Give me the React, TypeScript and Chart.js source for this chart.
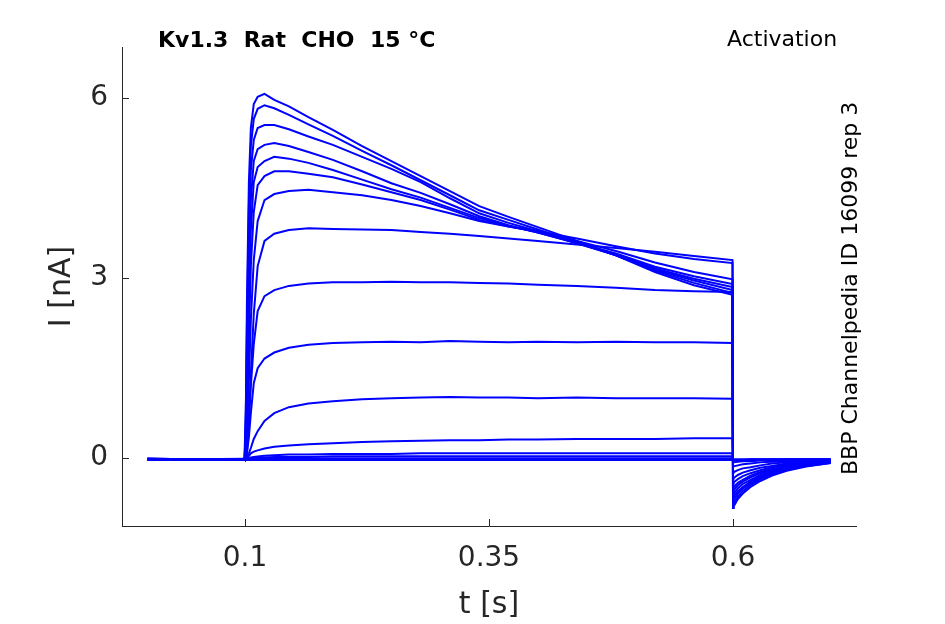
import React, { useEffect, useRef } from 'react';
import { Chart, registerables } from 'chart.js';

Chart.register(...registerables);

// time base [s], shared by all sweeps
const TIME = [
  0, 0.05, 0.0995,
  0.1, 0.101, 0.102, 0.104, 0.106, 0.109, 0.113,
  0.12, 0.13, 0.145, 0.165, 0.19,
  0.22, 0.25, 0.28, 0.31, 0.34, 0.37, 0.4, 0.44, 0.48, 0.52, 0.56, 0.5995,
  0.6, 0.6008, 0.605, 0.61, 0.618, 0.628, 0.64, 0.655, 0.675, 0.7,
];

// current [nA] per sweep, largest step first
const SWEEP_1 = [
  -0.01, -0.03, -0.02,
  -0.02, 1.0, 2.6, 4.6, 5.5, 5.9, 6.02,
  6.07, 5.97, 5.86, 5.68, 5.47,
  5.2, 4.95, 4.7, 4.45, 4.2, 4.02, 3.85, 3.62, 3.38, 3.1, 2.88, 2.72,
  -0.83, -0.8, -0.68, -0.59, -0.48, -0.38, -0.29, -0.21, -0.14, -0.08,
];
const SWEEP_2 = [
  -0.02, -0.02, -0.01,
  -0.02, 0.8, 2.2, 4.2, 5.2, 5.65, 5.82,
  5.88, 5.83, 5.72, 5.56, 5.37,
  5.12, 4.88, 4.63, 4.38, 4.13, 3.97, 3.81, 3.6, 3.38, 3.12, 2.92, 2.75,
  -0.78, -0.75, -0.64, -0.55, -0.45, -0.35, -0.27, -0.19, -0.13, -0.08,
];
const SWEEP_3 = [
  -0.01, -0.02, -0.02,
  -0.02, 0.6, 1.8, 3.7, 4.8, 5.3, 5.5,
  5.55, 5.55, 5.48, 5.36, 5.22,
  5.02, 4.82, 4.6, 4.33, 4.08, 3.92, 3.78, 3.58, 3.38, 3.14, 2.96, 2.8,
  -0.72, -0.69, -0.59, -0.51, -0.42, -0.33, -0.25, -0.18, -0.12, -0.07,
];
const SWEEP_4 = [
  -0.02, -0.03, -0.02,
  -0.02, 0.45, 1.4, 3.2, 4.3, 4.95, 5.15,
  5.22, 5.25, 5.2, 5.1, 4.97,
  4.78, 4.58, 4.42, 4.23, 4.03, 3.88, 3.76, 3.58, 3.39, 3.16, 2.99, 2.85,
  -0.67, -0.64, -0.55, -0.48, -0.39, -0.31, -0.23, -0.17, -0.12, -0.07,
];
const SWEEP_5 = [
  -0.01, -0.02, -0.03,
  -0.02, 0.3, 1.0, 2.6, 3.8, 4.6, 4.85,
  4.95, 5.02, 4.99, 4.92, 4.8,
  4.64, 4.48, 4.34, 4.17, 4.0, 3.87, 3.76, 3.59, 3.41, 3.19, 3.03, 2.9,
  -0.61, -0.59, -0.5, -0.43, -0.36, -0.28, -0.21, -0.16, -0.11, -0.07,
];
const SWEEP_6 = [
  -0.02, -0.02, -0.02,
  -0.02, 0.2, 0.7, 2.0, 3.2, 4.1, 4.55,
  4.7, 4.78, 4.78, 4.74, 4.68,
  4.56, 4.43, 4.3, 4.14, 3.97, 3.86, 3.77, 3.62, 3.45, 3.26, 3.1, 2.98,
  -0.55, -0.53, -0.45, -0.39, -0.32, -0.25, -0.19, -0.14, -0.1, -0.06,
];
const SWEEP_7 = [
  -0.02, -0.03, -0.01,
  -0.02, 0.1, 0.4, 1.3, 2.3, 3.3, 3.95,
  4.3, 4.4, 4.45, 4.47, 4.43,
  4.38, 4.3, 4.2, 4.08, 3.95, 3.86, 3.78, 3.66, 3.53, 3.41, 3.32, 3.25,
  -0.5, -0.48, -0.41, -0.36, -0.29, -0.23, -0.18, -0.13, -0.09, -0.06,
];
const SWEEP_8 = [
  -0.01, -0.02, -0.02,
  -0.02, 0.05, 0.2, 0.7, 1.4, 2.4, 3.2,
  3.62, 3.74, 3.8, 3.83, 3.82,
  3.81, 3.8, 3.77, 3.74, 3.7, 3.66, 3.62, 3.56, 3.5, 3.44, 3.37, 3.3,
  -0.42, -0.4, -0.35, -0.3, -0.25, -0.2, -0.15, -0.11, -0.08, -0.05,
];
const SWEEP_9 = [
  -0.02, -0.02, -0.02,
  -0.02, 0.02, 0.1, 0.6, 1.2, 1.9, 2.45,
  2.7, 2.8, 2.87, 2.91, 2.93,
  2.93, 2.94, 2.93, 2.93, 2.92, 2.91, 2.89, 2.87, 2.84, 2.8, 2.78, 2.77,
  -0.34, -0.33, -0.28, -0.24, -0.2, -0.16, -0.13, -0.09, -0.07, -0.05,
];
const SWEEP_10 = [
  -0.02, -0.03, -0.02,
  -0.02, 0.02, 0.08, 0.35, 0.75, 1.25, 1.5,
  1.66, 1.76, 1.84, 1.89, 1.92,
  1.93, 1.94, 1.93, 1.95, 1.94, 1.93, 1.94, 1.93, 1.94, 1.93, 1.93, 1.92,
  -0.24, -0.23, -0.2, -0.17, -0.15, -0.12, -0.09, -0.07, -0.05, -0.04,
];
const SWEEP_11 = [
  -0.01, -0.02, -0.02,
  -0.02, 0.0, 0.02, 0.08, 0.17, 0.32, 0.45,
  0.62, 0.75, 0.85, 0.91, 0.95,
  0.98, 1.0, 1.01, 1.02, 1.01, 1.01, 1.0, 1.01, 1.0, 1.0, 1.0, 0.99,
  -0.14, -0.14, -0.12, -0.1, -0.09, -0.07, -0.06, -0.05, -0.04, -0.03,
];
const SWEEP_12 = [
  -0.02, -0.02, -0.02,
  -0.02, -0.01, 0.0, 0.04, 0.08, 0.11, 0.13,
  0.16, 0.19, 0.21, 0.23, 0.25,
  0.27, 0.28, 0.29, 0.3, 0.3, 0.31, 0.31, 0.32, 0.32, 0.32, 0.33, 0.33,
  -0.07, -0.07, -0.06, -0.05, -0.05, -0.04, -0.04, -0.03, -0.03, -0.03,
];
const SWEEP_13 = [
  -0.02, -0.02, -0.01,
  -0.02, -0.02, -0.01, 0.0, 0.01, 0.02, 0.03,
  0.04, 0.05, 0.06, 0.06, 0.07,
  0.07, 0.07, 0.08, 0.08, 0.08, 0.08, 0.08, 0.08, 0.08, 0.08, 0.08, 0.08,
  -0.04, -0.04, -0.04, -0.03, -0.03, -0.03, -0.03, -0.02, -0.02, -0.02,
];
const SWEEP_14 = [
  -0.02, -0.03, -0.02,
  -0.02, -0.02, -0.02, -0.01, 0.0, 0.0, 0.01,
  0.01, 0.02, 0.02, 0.02, 0.03,
  0.03, 0.03, 0.03, 0.03, 0.03, 0.03, 0.03, 0.03, 0.03, 0.03, 0.03, 0.03,
  -0.03, -0.03, -0.03, -0.03, -0.02, -0.02, -0.02, -0.02, -0.02, -0.02,
];
const SWEEP_15 = [
  -0.02, -0.02, -0.02,
  -0.02, -0.02, -0.02, -0.02, -0.01, -0.01, -0.01,
  -0.01, -0.01, 0.0, 0.0, 0.0,
  0.0, 0.0, 0.0, 0.0, 0.0, 0.0, 0.0, 0.0, 0.0, 0.0, 0.0, 0.0,
  -0.02, -0.02, -0.02, -0.02, -0.02, -0.02, -0.02, -0.02, -0.02, -0.02,
];
const SWEEP_16 = [
  -0.03, -0.02, -0.03,
  -0.03, -0.03, -0.03, -0.03, -0.03, -0.03, -0.03,
  -0.03, -0.03, -0.03, -0.03, -0.03,
  -0.03, -0.03, -0.03, -0.03, -0.03, -0.03, -0.03, -0.03, -0.03, -0.03, -0.03, -0.03,
  -0.03, -0.03, -0.03, -0.03, -0.03, -0.03, -0.03, -0.03, -0.03, -0.03,
];

const SWEEPS = [
  SWEEP_1, SWEEP_2, SWEEP_3, SWEEP_4, SWEEP_5, SWEEP_6, SWEEP_7, SWEEP_8,
  SWEEP_9, SWEEP_10, SWEEP_11, SWEEP_12, SWEEP_13, SWEEP_14, SWEEP_15, SWEEP_16,
];

const X_TICKS = [0.1, 0.35, 0.6];
const X_TICK_LABELS = ['0.1', '0.35', '0.6'];
const Y_TICKS = [0, 3, 6];
const Y_TICK_LABELS = ['0', '3', '6'];

const TITLE = 'Kv1.3  Rat  CHO  15 °C';
const PROTOCOL = 'Activation';
const SOURCE = 'BBP Channelpedia ID 16099 rep 3';

const FONT = 'DejaVu Sans';
const AXIS_COLOR = '#262626';
const TRACE_COLOR = '#0000ff';

// inward tick marks + the free text labels around the axes
const decorPlugin = {
  id: 'decor',
  afterDraw(chart: Chart) {
    const { ctx, chartArea, scales } = chart;
    ctx.save();
    ctx.strokeStyle = AXIS_COLOR;
    ctx.lineWidth = 1;
    ctx.beginPath();
    X_TICKS.forEach((v) => {
      const px = Math.round(scales.x.getPixelForValue(v)) + 0.5;
      ctx.moveTo(px, chartArea.bottom);
      ctx.lineTo(px, chartArea.bottom - 7);
    });
    Y_TICKS.forEach((v) => {
      const py = Math.round(scales.y.getPixelForValue(v)) + 0.5;
      ctx.moveTo(chartArea.left, py);
      ctx.lineTo(chartArea.left + 7, py);
    });
    ctx.stroke();

    ctx.fillStyle = '#000000';
    ctx.textBaseline = 'alphabetic';
    ctx.textAlign = 'left';
    ctx.font = `bold 22px "${FONT}"`;
    ctx.fillText(TITLE, 158, 47);
    ctx.font = `22px "${FONT}"`;
    ctx.fillText(PROTOCOL, 727, 46);

    ctx.translate(857, 475);
    ctx.rotate(-Math.PI / 2);
    ctx.font = `22px "${FONT}"`;
    ctx.fillText(SOURCE, 0, 0);
    ctx.restore();
  },
};

const App: React.FC = () => {
  const canvasRef = useRef<HTMLCanvasElement>(null);
  const chartRef = useRef<Chart | null>(null);

  useEffect(() => {
    if (!canvasRef.current) return;
    if (chartRef.current) chartRef.current.destroy();

    const datasets = SWEEPS.map((sweep, i) => ({
      label: `sweep ${i + 1}`,
      data: TIME.map((t, j) => ({ x: t, y: sweep[j] })),
      borderColor: TRACE_COLOR,
      borderWidth: 2,
      pointRadius: 0,
      tension: 0,
      fill: false,
    }));

    chartRef.current = new Chart(canvasRef.current, {
      type: 'line',
      data: { datasets },
      options: {
        animation: false,
        responsive: false,
        layout: { padding: { left: 0, top: 47, right: 89, bottom: 0 } },
        plugins: {
          legend: { display: false },
          tooltip: { enabled: false },
        },
        scales: {
          x: {
            type: 'linear',
            min: -0.026,
            max: 0.726,
            afterBuildTicks: (scale: any) => {
              scale.ticks = X_TICKS.map((v) => ({ value: v }));
            },
            afterFit: (scale: any) => {
              scale.height = 98;
              scale.paddingLeft = 0;
              scale.paddingRight = 0;
            },
            ticks: {
              autoSkip: false,
              maxRotation: 0,
              padding: 16,
              color: AXIS_COLOR,
              font: { family: FONT, size: 28 },
              callback: (_v: any, i: number) => X_TICK_LABELS[i],
            },
            grid: { display: false, drawTicks: false },
            border: { display: true, color: AXIS_COLOR, width: 1 },
            title: {
              display: true,
              text: 't [s]',
              color: AXIS_COLOR,
              font: { family: FONT, size: 30 },
              padding: { top: 0, bottom: 1 },
            },
          },
          y: {
            type: 'linear',
            min: -1.13,
            max: 6.85,
            afterBuildTicks: (scale: any) => {
              scale.ticks = Y_TICKS.map((v) => ({ value: v }));
            },
            afterFit: (scale: any) => {
              scale.width = 122;
              scale.paddingTop = 0;
              scale.paddingBottom = 0;
            },
            ticks: {
              autoSkip: false,
              padding: 14,
              color: AXIS_COLOR,
              font: { family: FONT, size: 28 },
              callback: (_v: any, i: number) => Y_TICK_LABELS[i],
            },
            grid: { display: false, drawTicks: false },
            border: { display: true, color: AXIS_COLOR, width: 1 },
            title: {
              display: true,
              text: 'I [nA]',
              color: AXIS_COLOR,
              font: { family: FONT, size: 30 },
              padding: { top: 44, bottom: 0 },
            },
          },
        },
      },
      plugins: [decorPlugin],
    });

    return () => {
      if (chartRef.current) {
        chartRef.current.destroy();
        chartRef.current = null;
      }
    };
  }, []);

  return (
    <div style={{ position: 'absolute', left: 0, top: 0, width: 945, height: 624, background: '#ffffff' }}>
      <canvas ref={canvasRef} width={945} height={624}></canvas>
    </div>
  );
};

export default App;
